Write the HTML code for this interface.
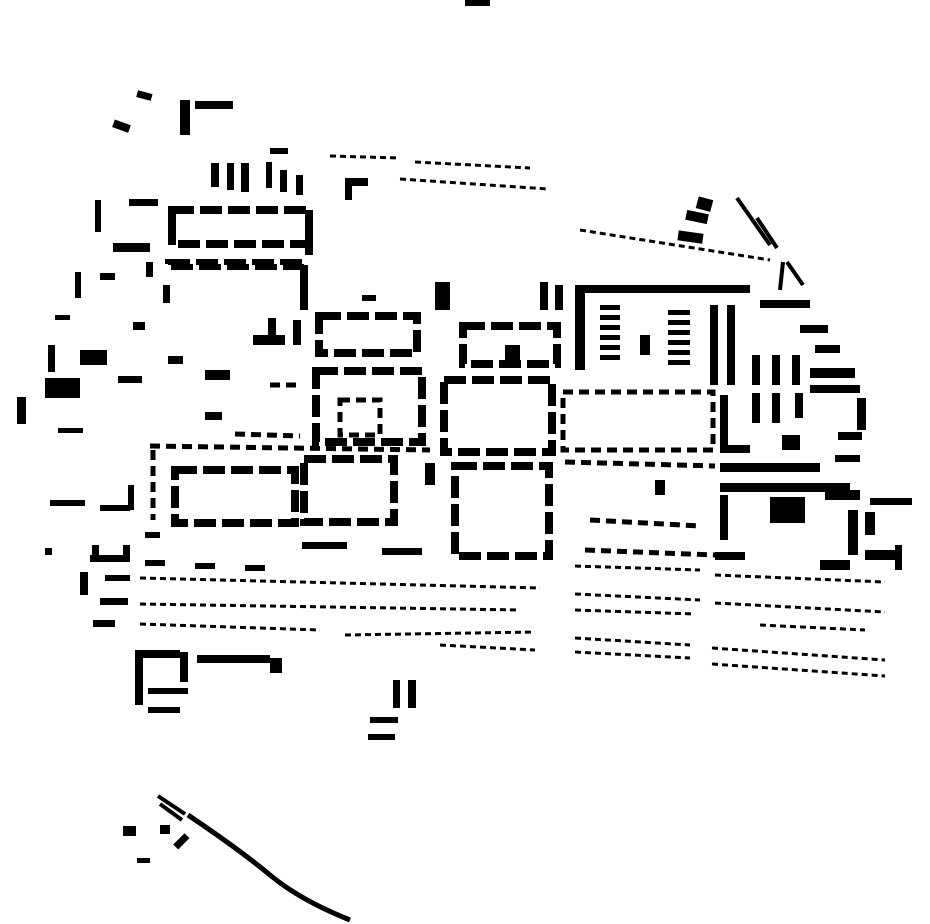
<!DOCTYPE html>
<html><head><meta charset="utf-8"><style>html,body{margin:0;padding:0;background:#fff}svg{display:block}</style></head>
<body>
<svg width="930" height="924" viewBox="0 0 930 924" xmlns="http://www.w3.org/2000/svg">
<g fill="#000">
<rect x="465" y="0" width="25" height="6"/>
<rect x="137" y="92" width="15" height="7" transform="rotate(15 144 95)"/>
<rect x="180" y="100" width="10" height="35"/>
<rect x="195" y="101" width="38" height="8"/>
<rect x="113" y="122" width="17" height="8" transform="rotate(20 121 126)"/>
<rect x="211" y="163" width="8" height="24"/><rect x="227" y="163" width="7" height="27"/><rect x="241" y="163" width="8" height="29"/>
<rect x="266" y="162" width="6" height="26"/><rect x="280" y="170" width="7" height="22"/><rect x="296" y="175" width="7" height="20"/>
<rect x="270" y="148" width="18" height="6"/>
<rect x="345" y="178" width="7" height="22"/><rect x="345" y="178" width="23" height="8"/>
<rect x="95" y="200" width="6" height="32"/><rect x="129" y="199" width="29" height="7"/>
<rect x="168" y="207" width="8" height="38"/><rect x="305" y="210" width="8" height="45"/>
<rect x="113" y="243" width="37" height="9"/><rect x="146" y="262" width="7" height="15"/>
<rect x="163" y="285" width="7" height="18"/><rect x="300" y="265" width="8" height="45"/>
<rect x="75" y="272" width="6" height="26"/><rect x="100" y="273" width="15" height="7"/>
<rect x="55" y="315" width="15" height="5"/><rect x="133" y="322" width="12" height="8"/>
<rect x="48" y="345" width="7" height="27"/><rect x="80" y="350" width="27" height="15"/>
<rect x="45" y="378" width="35" height="20"/><rect x="118" y="376" width="24" height="7"/>
<rect x="17" y="397" width="9" height="27"/><rect x="58" y="428" width="25" height="5"/>
<rect x="168" y="356" width="15" height="8"/><rect x="205" y="370" width="25" height="10"/><rect x="205" y="412" width="17" height="8"/>
<rect x="253" y="335" width="32" height="10"/><rect x="268" y="318" width="8" height="25"/><rect x="293" y="320" width="8" height="25"/>
<rect x="435" y="282" width="15" height="28"/><rect x="362" y="295" width="14" height="6"/>
<rect x="540" y="282" width="8" height="28"/><rect x="555" y="285" width="8" height="25"/>
<rect x="575" y="285" width="175" height="8"/><rect x="575" y="290" width="10" height="80"/>
<rect x="600" y="305" width="20" height="5"/><rect x="600" y="315" width="20" height="5"/><rect x="600" y="325" width="20" height="5"/><rect x="600" y="335" width="20" height="5"/><rect x="600" y="345" width="20" height="5"/><rect x="600" y="355" width="20" height="5"/>
<rect x="640" y="335" width="10" height="20"/>
<rect x="668" y="310" width="22" height="5"/><rect x="668" y="320" width="22" height="5"/><rect x="668" y="330" width="22" height="5"/><rect x="668" y="340" width="22" height="5"/><rect x="668" y="350" width="22" height="5"/><rect x="668" y="360" width="22" height="5"/>
<rect x="710" y="305" width="8" height="80"/><rect x="727" y="305" width="8" height="80"/>
<rect x="697" y="198" width="15" height="12" transform="rotate(15 704 204)"/>
<rect x="686" y="212" width="22" height="10" transform="rotate(12 697 217)"/>
<rect x="678" y="232" width="25" height="10" transform="rotate(8 690 237)"/>
<rect x="760" y="300" width="50" height="8"/><rect x="800" y="325" width="28" height="8"/><rect x="815" y="345" width="25" height="8"/>
<rect x="752" y="355" width="8" height="30"/><rect x="772" y="355" width="8" height="30"/><rect x="792" y="355" width="8" height="30"/>
<rect x="752" y="393" width="8" height="30"/><rect x="772" y="393" width="8" height="30"/><rect x="795" y="393" width="8" height="25"/>
<rect x="810" y="368" width="45" height="10"/><rect x="810" y="385" width="50" height="8"/>
<rect x="857" y="398" width="9" height="32"/><rect x="838" y="432" width="24" height="8"/>
<rect x="782" y="435" width="18" height="15"/><rect x="835" y="455" width="25" height="7"/>
<rect x="720" y="463" width="100" height="9"/><rect x="720" y="483" width="130" height="9"/>
<rect x="720" y="495" width="8" height="45"/><rect x="770" y="497" width="35" height="26"/>
<rect x="825" y="490" width="35" height="10"/><rect x="870" y="498" width="42" height="7"/>
<rect x="848" y="510" width="10" height="45"/><rect x="865" y="512" width="10" height="23"/>
<rect x="865" y="550" width="35" height="10"/><rect x="715" y="552" width="30" height="8"/>
<rect x="820" y="560" width="30" height="10"/><rect x="895" y="545" width="7" height="25"/>
<rect x="720" y="395" width="8" height="50"/><rect x="720" y="445" width="30" height="8"/>
<rect x="655" y="480" width="10" height="15"/><rect x="425" y="463" width="10" height="22"/>
<rect x="50" y="500" width="35" height="6"/><rect x="100" y="505" width="30" height="6"/><rect x="128" y="485" width="6" height="25"/>
<rect x="90" y="555" width="40" height="7"/><rect x="92" y="545" width="7" height="15"/><rect x="123" y="545" width="7" height="15"/>
<rect x="45" y="548" width="7" height="7"/><rect x="80" y="572" width="8" height="23"/>
<rect x="105" y="575" width="25" height="6"/><rect x="100" y="598" width="28" height="7"/><rect x="93" y="620" width="22" height="7"/>
<rect x="145" y="532" width="15" height="6"/><rect x="145" y="560" width="20" height="6"/><rect x="195" y="563" width="20" height="6"/><rect x="245" y="565" width="20" height="6"/>
<rect x="302" y="542" width="45" height="7"/><rect x="382" y="548" width="40" height="7"/>
<rect x="135" y="650" width="8" height="55"/><rect x="135" y="650" width="45" height="8"/><rect x="180" y="652" width="8" height="30"/>
<rect x="197" y="655" width="73" height="8"/><rect x="270" y="658" width="12" height="15"/>
<rect x="148" y="688" width="40" height="6"/><rect x="148" y="707" width="32" height="6"/>
<rect x="393" y="680" width="7" height="28"/><rect x="408" y="680" width="8" height="28"/>
<rect x="370" y="717" width="28" height="6"/><rect x="368" y="734" width="27" height="6"/>
<rect x="123" y="826" width="13" height="10"/><rect x="160" y="825" width="10" height="9"/><rect x="137" y="858" width="13" height="5"/>
<rect x="173" y="838" width="16" height="7" transform="rotate(-45 181 841)"/>
<rect x="505" y="345" width="15" height="15"/>
</g>
<g fill="none" stroke="#000">
<g stroke-width="8" stroke-dasharray="22 6">
<rect x="172" y="210" width="137" height="34"/>
<rect x="168" y="262" width="136" height="5" stroke-width="6"/>
<rect x="319" y="316" width="98" height="37"/>
<rect x="463" y="326" width="94" height="38"/>
<rect x="316" y="371" width="106" height="71"/>
<rect x="444" y="380" width="108" height="72"/>
<rect x="304" y="459" width="90" height="63"/>
<rect x="455" y="466" width="94" height="90"/>
<rect x="175" y="470" width="120" height="53"/>
</g>
<g stroke-width="5" stroke-dasharray="10 6">
<line x1="150" y1="446" x2="430" y2="450"/>
<line x1="153" y1="450" x2="153" y2="520"/>
<rect x="340" y="400" width="40" height="35"/>
<rect x="563" y="392" width="150" height="58"/>
<line x1="565" y1="462" x2="715" y2="466"/>
<line x1="590" y1="520" x2="700" y2="526"/>
<line x1="585" y1="550" x2="715" y2="555"/>
<line x1="235" y1="434" x2="300" y2="436"/>
<line x1="270" y1="385" x2="300" y2="385"/>
</g>
<g stroke-width="3" stroke-dasharray="6 4">
<line x1="330" y1="156" x2="400" y2="158"/>
<line x1="415" y1="162" x2="530" y2="168"/>
<line x1="400" y1="179" x2="548" y2="189"/>
<line x1="580" y1="230" x2="770" y2="260"/>
<line x1="140" y1="578" x2="540" y2="588"/>
<line x1="140" y1="604" x2="520" y2="610"/>
<line x1="140" y1="624" x2="320" y2="630"/>
<line x1="345" y1="635" x2="535" y2="632"/>
<line x1="440" y1="645" x2="535" y2="650"/>
<line x1="575" y1="566" x2="700" y2="570"/>
<line x1="575" y1="594" x2="700" y2="600"/>
<line x1="575" y1="610" x2="695" y2="614"/>
<line x1="575" y1="638" x2="690" y2="645"/>
<line x1="575" y1="652" x2="690" y2="658"/>
<line x1="715" y1="575" x2="885" y2="582"/>
<line x1="715" y1="603" x2="885" y2="612"/>
<line x1="760" y1="625" x2="865" y2="630"/>
<line x1="712" y1="648" x2="885" y2="660"/>
<line x1="712" y1="664" x2="885" y2="676"/>
</g>
<g stroke-width="4">
<line x1="737" y1="198" x2="770" y2="245"/>
<line x1="757" y1="218" x2="777" y2="248"/>
<line x1="787" y1="262" x2="803" y2="285"/>
<line x1="783" y1="262" x2="780" y2="290"/>
<line x1="158" y1="796" x2="185" y2="814"/>
<line x1="160" y1="804" x2="182" y2="820"/>
<path d="M188 815 Q240 850 270 875 Q300 900 350 920" stroke-width="5"/>
</g>
</g>
</svg>
</body></html>
